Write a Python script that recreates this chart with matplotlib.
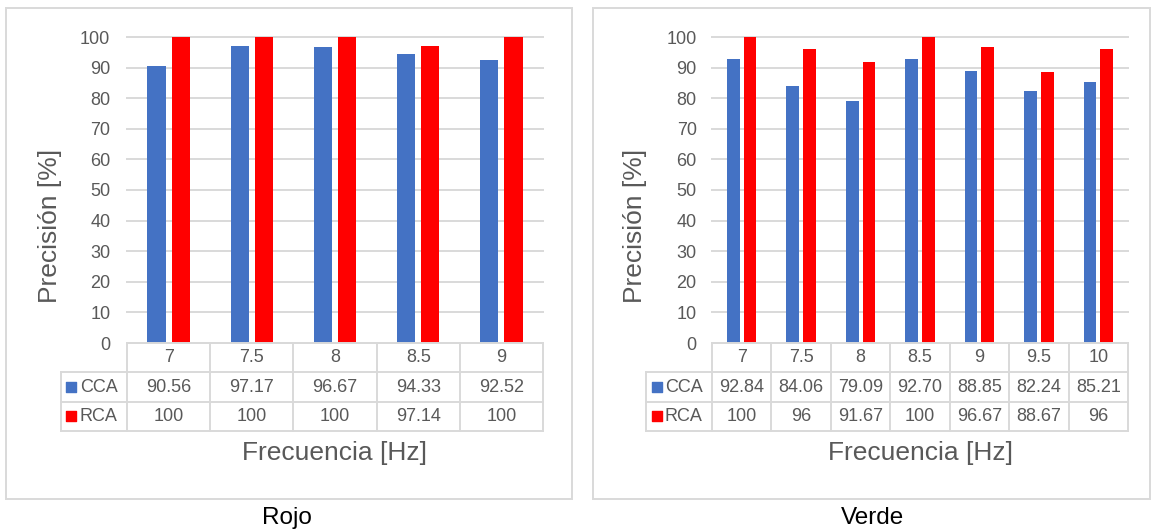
import matplotlib
matplotlib.use("Agg")
import matplotlib.pyplot as plt
from matplotlib.patches import Rectangle
from matplotlib.lines import Line2D

plt.rcParams['font.family'] = ['Liberation Sans', 'DejaVu Sans']

# ---------------- data ----------------
rojo_freqs = ["7", "7.5", "8", "8.5", "9"]
rojo_cca = [90.56, 97.17, 96.67, 94.33, 92.52]
rojo_rca = [100, 100, 100, 97.14, 100]
rojo_cca_lbl = ["90.56", "97.17", "96.67", "94.33", "92.52"]
rojo_rca_lbl = ["100", "100", "100", "97.14", "100"]

verde_freqs = ["7", "7.5", "8", "8.5", "9", "9.5", "10"]
verde_cca = [92.84, 84.06, 79.09, 92.70, 88.85, 82.24, 85.21]
verde_rca = [100, 96, 91.67, 100, 96.67, 88.67, 96]
verde_cca_lbl = ["92.84", "84.06", "79.09", "92.70", "88.85", "82.24", "85.21"]
verde_rca_lbl = ["100", "96", "91.67", "100", "96.67", "88.67", "96"]

series_names = ["CCA", "RCA"]
yticks = list(range(0, 101, 10))
ylabel = "Precisión [%]"
xlabel = "Frecuencia [Hz]"
captions = ["Rojo", "Verde"]

# ---------------- style ----------------
W, H = 1156, 531
BLUE = "#4472C4"
RED = "#FF0000"
GRAY = "#595959"
LINE = "#D9D9D9"

fig = plt.figure(figsize=(W / 100, H / 100), dpi=100)


def fx(px):
    return px / W


def fy(py):
    return 1 - py / H


def panel(box, plot_l, plot_r, leg_l, freqs, cca, rca, cca_lbl, rca_lbl,
          width, offset, tick_pad, caption, cap_x):
    bx0, by0, bx1, by1 = box
    fig.patches.append(Rectangle((fx(bx0), fy(by1)), fx(bx1 - bx0), (by1 - by0) / H,
                                 transform=fig.transFigure, fill=False,
                                 edgecolor=LINE, lw=1.4))
    top, bot = 37, 343
    rows = [343, 372, 401, 431]
    n = len(freqs)
    cw = (plot_r - plot_l) / n

    ax = fig.add_axes([fx(plot_l), fy(bot), fx(plot_r - plot_l), (bot - top) / H])
    x = list(range(n))
    ax.bar([i - offset for i in x], cca, width=width, color=BLUE, zorder=3)
    ax.bar([i + offset for i in x], rca, width=width, color=RED, zorder=3)
    ax.set_xlim(-0.5, n - 0.5)
    ax.set_ylim(0, 100)
    ax.set_yticks(yticks)
    ax.set_xticks([])
    ax.tick_params(axis='y', length=0, pad=tick_pad, labelsize=13, labelcolor=GRAY)
    for s in ax.spines.values():
        s.set_visible(False)
    ax.yaxis.grid(True, color=LINE, lw=1.4, zorder=0)
    for gl in ax.yaxis.get_gridlines():
        gl.set_clip_on(False)
    ax.set_axisbelow(True)
    ax.patch.set_alpha(0)

    # data table
    leg_w = (plot_l - leg_l) / cw
    tax = fig.add_axes([fx(leg_l), fy(rows[-1]), fx(plot_r - leg_l), (rows[-1] - rows[0]) / H])
    tax.set_xlim(-0.5 - leg_w, n - 0.5)
    tax.set_ylim(0, 3)
    tax.axis('off')
    lk = dict(color=LINE, lw=1.4, solid_capstyle='projecting')
    tax.add_line(Line2D([-0.5, n - 0.5], [3, 3], **lk))
    for yv in [2, 1, 0]:
        tax.add_line(Line2D([-0.5 - leg_w, n - 0.5], [yv, yv], **lk))
    for i in range(n + 1):
        tax.add_line(Line2D([i - 0.5, i - 0.5], [0, 3], **lk))
    tax.add_line(Line2D([-0.5 - leg_w, -0.5 - leg_w], [0, 2], **lk))
    for a in tax.lines:
        a.set_clip_on(False)
    tk = dict(ha='center', va='center', fontsize=13, color=GRAY)
    for i in range(n):
        tax.text(i, 2.5, freqs[i], **tk)
        tax.text(i, 1.5, cca_lbl[i], **tk)
        tax.text(i, 0.5, rca_lbl[i], **tk)
    sq_x = -0.5 - leg_w + 10.5 / cw
    txt_x = -0.5 - leg_w + 19 / cw
    for yv, col, name in [(1.5, BLUE, series_names[0]), (0.5, RED, series_names[1])]:
        tax.scatter([sq_x], [yv], marker='s', s=44, color=col, clip_on=False, zorder=3)
        tax.text(txt_x, yv, name, ha='left', va='center', fontsize=13, color=GRAY)

    fig.text(fx(plot_l - 77), fy(226), ylabel, rotation=90, ha='center', va='center',
             fontsize=19, color=GRAY)
    fig.text(fx((plot_l + plot_r) / 2), fy(453), xlabel, ha='center', va='center',
             fontsize=19, color=GRAY)
    fig.text(fx(cap_x), fy(518), caption, ha='center', va='center', fontsize=17.5,
             color='black')


panel((6, 8, 572, 499), 127, 543, 61, rojo_freqs, rojo_cca, rojo_rca,
      rojo_cca_lbl, rojo_rca_lbl, 0.22, 0.145, 12, captions[0], 287)
panel((593, 8, 1150, 499), 712, 1128, 646, verde_freqs, verde_cca, verde_rca,
      verde_cca_lbl, verde_rca_lbl, 0.215, 0.14, 11, captions[1], 873)

fig.savefig("out.png", dpi=100)
